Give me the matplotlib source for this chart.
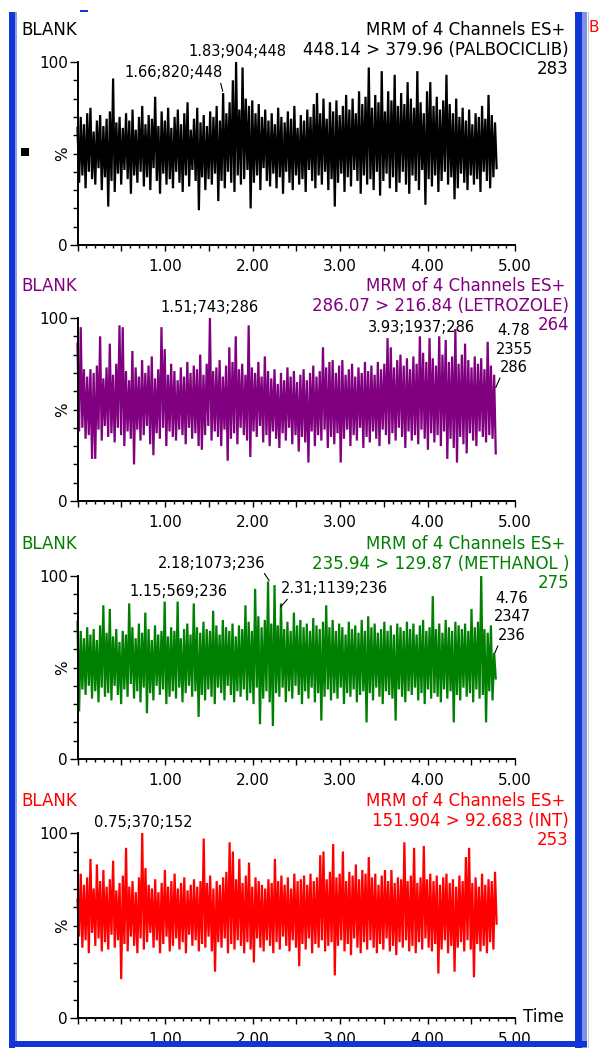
import numpy as np
import matplotlib
matplotlib.use("Agg")
import matplotlib.pyplot as plt
from matplotlib.patches import Rectangle
from matplotlib.ticker import MultipleLocator, FixedLocator, FuncFormatter

W, H = 599, 1050

# ---- data (intensity in %, alternating spike tops / troughs)
channels = ["448.14 > 379.96 (PALBOCICLIB)", "286.07 > 216.84 (LETROZOLE)",
            "235.94 > 129.87 (METHANOL )", "151.904 > 92.683 (INT)"]
full_scale = ["283", "264", "275", "253"]
run_end = [4.79, 4.78, 4.78, 4.79]
trace_colors = ["black", "#800080", "#008000", "#ff0000"]

highs_palbo = [64, 70, 66, 72, 75, 62, 68, 71, 65, 69,
               73, 91, 67, 70, 64, 72, 68, 74, 63, 70,
               76, 66, 71, 69, 81, 65, 73, 68, 75, 64,
               70, 74, 66, 72, 78, 63, 69, 75, 67, 71,
               65, 73, 70, 76, 68, 83, 72, 78, 90, 100,
               74, 97, 80, 76, 79, 72, 77, 70, 74, 68,
               72, 66, 75, 70, 67, 73, 69, 76, 64, 71,
               68, 74, 70, 77, 83, 72, 80, 69, 78, 73,
               79, 71, 76, 82, 74, 80, 72, 84, 77, 81,
               97, 75, 82, 78, 95, 73, 84, 79, 93, 76,
               83, 77, 89, 80, 75, 95, 78, 72, 84, 89,
               76, 81, 74, 79, 93, 77, 72, 80, 70, 75,
               68, 74, 66, 72, 70, 76, 69, 82, 71, 67]
lows_palbo = [34, 38, 31, 40, 36, 33, 42, 30, 37, 21,
              35, 29, 39, 33, 41, 36, 28, 38, 34, 40,
              32, 37, 30, 42, 35, 28, 39, 33, 36, 31,
              40, 34, 29, 38, 32, 41, 35, 19, 37, 30,
              36, 33, 39, 24, 35, 31, 40, 34, 29, 38,
              33, 36, 41, 20, 34, 38, 30, 42, 35, 32,
              39, 31, 37, 28, 40, 34, 30, 38, 33, 36,
              29, 41, 35, 31, 38, 33, 40, 30, 36, 21,
              34, 39, 29, 37, 32, 41, 35, 28, 38, 33,
              36, 30, 40, 27, 35, 39, 31, 37, 29, 34,
              40, 33, 28, 38, 35, 30, 41, 22, 36, 32,
              38, 29, 35, 40, 33, 37, 25, 31, 39, 34,
              30, 38, 33, 36, 29, 40, 35, 31, 37, 42]

highs_letro = [86, 95, 72, 68, 72, 70, 74, 90, 67, 73,
               86, 69, 75, 96, 95, 71, 66, 82, 73, 68,
               77, 70, 74, 79, 67, 72, 95, 83, 69, 75,
               71, 66, 73, 68, 76, 70, 74, 72, 80, 69,
               75, 100, 71, 73, 77, 68, 74, 84, 76, 90,
               72, 75, 69, 96, 73, 70, 76, 68, 79, 71,
               67, 72, 64, 70, 66, 73, 68, 71, 65, 69,
               72, 66, 70, 74, 68, 71, 84, 73, 76, 77,
               70, 74, 77, 69, 72, 75, 68, 73, 70, 76,
               71, 74, 69, 76, 72, 75, 89, 84, 73, 77,
               80, 74, 78, 72, 79, 75, 90, 81, 76, 89,
               78, 74, 90, 80, 88, 76, 79, 94, 75, 80,
               86, 77, 73, 79, 75, 78, 72, 87, 74, 69]
lows_letro = [38, 40, 34, 36, 23, 23, 39, 33, 41, 35,
              37, 32, 40, 36, 30, 38, 34, 20, 39, 33,
              36, 41, 31, 25, 37, 34, 40, 30, 38, 35,
              33, 39, 36, 31, 40, 34, 37, 30, 28, 36,
              41, 33, 38, 35, 30, 39, 22, 34, 37, 31,
              40, 36, 33, 24, 38, 35, 41, 32, 36, 30,
              38, 34, 29, 37, 33, 40, 31, 36, 27, 35,
              32, 21, 38, 30, 36, 33, 39, 29, 35, 31,
              37, 21, 34, 39, 30, 36, 33, 40, 29, 35,
              32, 38, 34, 30, 39, 36, 31, 37, 33, 40,
              35, 29, 38, 33, 36, 31, 39, 34, 28, 37,
              32, 36, 30, 38, 23, 34, 29, 21, 35, 31,
              26, 37, 33, 30, 38, 35, 32, 36, 34, 26]

highs_meoh = [75, 70, 66, 72, 68, 71, 65, 73, 84, 69,
              82, 67, 71, 64, 70, 68, 85, 72, 66, 74,
              69, 80, 71, 65, 73, 68, 70, 86, 67, 72,
              70, 86, 66, 71, 74, 68, 85, 72, 69, 75,
              71, 70, 81, 73, 68, 76, 72, 70, 74, 67,
              73, 71, 84, 75, 70, 93, 78, 72, 76, 97,
              74, 95, 73, 85, 71, 75, 70, 80, 73, 76,
              72, 74, 70, 77, 73, 71, 75, 84, 72, 76,
              70, 74, 72, 68, 75, 71, 73, 69, 76, 70,
              78, 72, 74, 69, 71, 75, 70, 73, 68, 74,
              72, 70, 75, 71, 74, 68, 73, 76, 70, 72,
              89, 71, 74, 69, 76, 72, 70, 75, 73, 71,
              74, 70, 82, 72, 75, 100, 71, 69, 73, 58]
lows_meoh = [26, 38, 35, 40, 33, 37, 31, 39, 34, 36,
             32, 40, 35, 30, 38, 34, 41, 33, 37, 31,
             39, 25, 36, 32, 40, 35, 38, 30, 34, 37,
             33, 39, 31, 36, 40, 34, 37, 23, 35, 32,
             38, 34, 30, 39, 36, 32, 40, 35, 31, 37,
             34, 38, 32, 36, 30, 39, 19, 33, 37, 31,
             18, 36, 34, 39, 31, 37, 33, 40, 35, 30,
             37, 33, 39, 31, 36, 21, 34, 38, 32, 36,
             33, 39, 30, 36, 34, 38, 31, 35, 37, 20,
             36, 32, 39, 34, 30, 37, 35, 33, 21, 38,
             34, 31, 37, 35, 39, 32, 36, 30, 38, 33,
             36, 34, 31, 38, 33, 37, 20, 35, 32, 39,
             34, 36, 31, 38, 33, 35, 20, 37, 32, 44]

highs_int = [64, 78, 72, 76, 86, 70, 83, 74, 80, 71,
             75, 85, 69, 73, 77, 92, 71, 74, 68, 76,
             100, 81, 72, 70, 75, 68, 73, 80, 71, 74,
             78, 70, 73, 76, 69, 72, 75, 71, 74, 97,
             73, 77, 70, 74, 72, 76, 79, 95, 90, 75,
             86, 73, 77, 84, 71, 76, 74, 72, 70, 75,
             73, 86, 74, 77, 72, 76, 70, 78, 74, 75,
             77, 72, 78, 74, 76, 88, 90, 75, 79, 94,
             76, 78, 90, 74, 79, 77, 83, 75, 80, 78,
             87, 76, 78, 72, 77, 80, 74, 80, 73, 76,
             75, 95, 74, 77, 92, 73, 76, 93, 75, 78,
             74, 77, 72, 76, 78, 73, 75, 71, 77, 74,
             87, 92, 73, 76, 71, 78, 72, 75, 74, 79]
lows_int = [44, 38, 42, 35, 46, 39, 43, 36, 41, 37,
            45, 38, 42, 21, 40, 36, 44, 39, 35, 43,
            37, 41, 46, 38, 42, 35, 40, 44, 36, 39,
            43, 37, 41, 35, 45, 39, 42, 36, 40, 38,
            44, 36, 25, 41, 38, 43, 35, 40, 37, 42,
            39, 35, 41, 37, 30, 43, 38, 36, 42, 39,
            35, 41, 37, 44, 39, 36, 42, 38, 28, 40,
            37, 43, 35, 40, 38, 42, 36, 39, 41, 23,
            39, 42, 36, 40, 34, 43, 38, 35, 41, 37,
            42, 38, 35, 40, 37, 43, 36, 39, 34, 41,
            38, 42, 36, 39, 35, 41, 37, 43, 38, 36,
            40, 24, 37, 42, 35, 39, 25, 38, 41, 36,
            42, 37, 22, 40, 36, 39, 35, 41, 37, 51]

highs = [highs_palbo, highs_letro, highs_meoh, highs_int]
lows = [lows_palbo, lows_letro, lows_meoh, lows_int]

# ---- layout (pixels of the 599x1050 screenshot)
panel_px = [(62, 245), (318, 501), (576, 759), (833, 1018)]
x0_px, x5_px = 77.5, 515.0


def fx(px):
    return px / W


def fy(py):
    return 1 - py / H


fig = plt.figure(figsize=(W / 100, H / 100), dpi=100)
fig.patch.set_facecolor("white")

# peak labels: text, text pos (t, %), peak (t, %) or None, relpos of leader
labels = [
    [("1.83;904;448", 1.83, 105.5, None, None),
     ("1.66;820;448", 1.10, 94.0, (1.66, 84), (0.97, 0.0))],
    [("1.51;743;286", 1.51, 105.5, None, None),
     ("3.93;1937;286", 3.93, 95.0, None, None),
     ("4.78\n2355\n286", 4.99, 83.0, (4.78, 62), (0.15, 0.0))],
    [("2.18;1073;236", 1.537, 107.0, (2.19, 97.5), (0.97, 0.0)),
     ("1.15;569;236", 1.15, 91.8, None, None),
     ("2.31;1139;236", 2.94, 92.9, (2.32, 83), (0.08, 0.0)),
     ("4.76\n2347\n236", 4.966, 77.6, (4.77, 58), (0.15, 0.0))],
    [("0.75;370;152", 0.75, 105.5, None, None)],
]

for i in range(4):
    y100, y0 = panel_px[i]
    c = trace_colors[i]
    ax = fig.add_axes([fx(x0_px), fy(y0), (x5_px - x0_px) / W, (y0 - y100) / H])
    ax.patch.set_alpha(0)

    n = min(len(highs[i]), len(lows[i]))
    vals = np.empty(2 * n)
    vals[0::2] = highs[i][:n]
    vals[1::2] = lows[i][:n]
    t = np.linspace(0, run_end[i], len(vals))
    ax.plot(t, vals, color=c, lw=1.6, clip_on=False, solid_joinstyle="miter")

    ax.set_xlim(0, 5)
    ax.set_ylim(0, 100)
    for s in ["top", "right"]:
        ax.spines[s].set_visible(False)
    for s in ["left", "bottom"]:
        ax.spines[s].set_linewidth(1.4)
        ax.spines[s].set_color("black")

    ax.xaxis.set_major_locator(MultipleLocator(0.5))
    ax.xaxis.set_minor_locator(MultipleLocator(0.1))
    ax.xaxis.set_major_formatter(FuncFormatter(
        lambda v, p: f"{v:.2f}" if v > 0.5 and abs(v - round(v)) < 1e-6 else ""))
    ax.yaxis.set_major_locator(FixedLocator([0, 100]))
    ax.yaxis.set_minor_locator(MultipleLocator(10))
    ax.tick_params(axis="x", which="major", length=4.5, width=1.0, pad=5.5, labelsize=11)
    ax.tick_params(axis="x", which="minor", length=2.5, width=1.0)
    ax.tick_params(axis="y", which="major", length=6, width=1.0, pad=1, labelsize=11)
    ax.tick_params(axis="y", which="minor", length=3.6, width=1.0)

    ax.text(-14.5 / (x5_px - x0_px), 0.5, "%", rotation=90, transform=ax.transAxes,
            ha="center", va="center", fontsize=11)

    for txt, tt, vt, peak, rp in labels[i]:
        if peak is None:
            ax.text(tt, vt, txt, ha="center", va="center", fontsize=10.5, clip_on=False)
        else:
            ax.annotate(txt, xy=peak, xytext=(tt, vt), ha="center", va="center",
                        fontsize=10.5, multialignment="center", linespacing=1.3,
                        annotation_clip=False,
                        arrowprops=dict(arrowstyle="-", lw=0.8, color="black",
                                        shrinkA=0, shrinkB=0, relpos=rp))

    # header block
    fig.text(fx(21), fy(y100 - 32), "BLANK", color=c, fontsize=12, ha="left", va="center")
    fig.text(fx(565), fy(y100 - 32), "MRM of 4 Channels ES+", color=c, fontsize=12,
             ha="right", va="center")
    fig.text(fx(569), fy(y100 - 12), channels[i], color=c, fontsize=12,
             ha="right", va="center")
    fig.text(fx(569), fy(y100 + 7), full_scale[i], color=c, fontsize=12,
             ha="right", va="center")

fig.text(fx(523), fy(1017), "Time", fontsize=12, ha="left", va="center")

# window frame of the screenshot
def px_rect(x, y, w, h, color):
    fig.add_artist(Rectangle((fx(x), fy(y + h)), w / W, h / H, transform=fig.transFigure,
                             facecolor=color, edgecolor="none"))

px_rect(9, 12, 6, 1036, "#1136d6")
px_rect(15, 12, 2, 1030, "#8fa0ea")
px_rect(575, 12, 7, 1036, "#1136d6")
px_rect(582, 12, 5, 1036, "#7f93e4")
px_rect(9, 1041, 578, 6, "#1136d6")
px_rect(588, 12, 1, 1036, "#c8c8c8")
px_rect(80, 10, 8, 2, "#1136d6")
px_rect(21, 148, 8, 8, "black")
fig.text(fx(589), fy(28), "B", color="#ff0000", fontsize=11, ha="left", va="center")

fig.savefig("out.png", dpi=100)
